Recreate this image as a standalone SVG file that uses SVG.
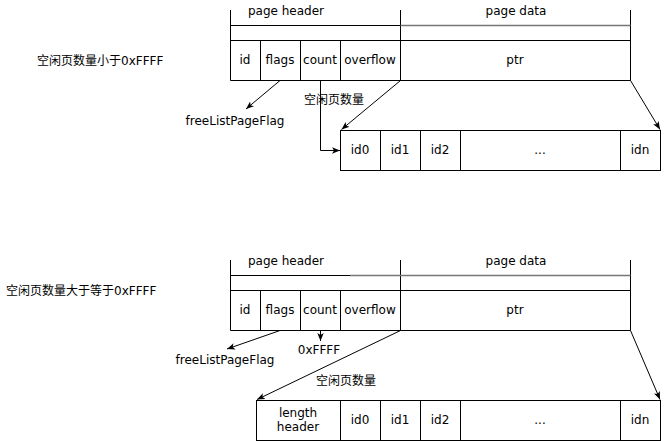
<svg xmlns="http://www.w3.org/2000/svg" width="669" height="441" viewBox="0 0 669 441">
<defs>
<marker id="ah" viewBox="0 0 10 10" refX="10" refY="5" markerWidth="8" markerHeight="8" markerUnits="userSpaceOnUse" orient="auto">
<path d="M0,1 L10,5 L0,9 L2.5,5 Z" fill="#000"/>
</marker>
</defs>
<style>
text{font-family:"DejaVu Sans","Noto Sans CJK SC",sans-serif;font-size:12px;fill:#000}
.c{text-anchor:middle}
.ln{stroke:#000;stroke-width:1;fill:none}
.gr{stroke:#777;stroke-width:1.5;fill:none}
.bx{stroke:#000;stroke-width:1;fill:#fff}
.ar{stroke:#000;stroke-width:1;fill:none;marker-end:url(#ah)}
</style>
<rect width="669" height="441" fill="#fff"/>

<g id="label-top"><text x="37" y="65">空闲页数量小于0xFFFF</text></g>
<g id="label-bottom"><text x="6" y="295">空闲页数量大于等于0xFFFF</text></g>

<!-- top page -->
<g id="page-top">
<path class="ln" d="M230.5,10 V80.5 H630.5 V10 M400.5,10 V80.5 M230.5,25.5 H400.5 M230.5,40.5 H630.5 M260.5,40.5 V80.5 M300.5,40.5 V80.5 M340.5,40.5 V80.5"/>
<path class="gr" d="M400.5,25.5 H630.5"/>
<text class="c" x="286" y="15">page header</text>
<text class="c" x="516" y="15">page data</text>
<text class="c" x="245" y="64">id</text>
<text class="c" x="280" y="64">flags</text>
<text class="c" x="320" y="64">count</text>
<text class="c" x="370" y="64">overflow</text>
<text class="c" x="515" y="64">ptr</text>
</g>

<g id="array-top">
<rect class="bx" x="340.5" y="130.5" width="320" height="40"/>
<path class="ln" d="M380.5,130.5 V170.5 M420.5,130.5 V170.5 M460.5,130.5 V170.5 M620.5,130.5 V170.5"/>
<text class="c" x="360" y="154">id0</text>
<text class="c" x="400" y="154">id1</text>
<text class="c" x="440" y="154">id2</text>
<text class="c" x="540" y="154">...</text>
<text class="c" x="640" y="154">idn</text>
</g>

<g id="text-top">
<text class="c" x="235" y="125">freeListPageFlag</text>
<text class="c" x="334" y="104">空闲页数量</text>
</g>

<!-- bottom page -->
<g id="page-bottom">
<path class="ln" d="M230.5,260 V330.5 H630.5 V260 M400.5,260 V330.5 M230.5,275.5 H350 M230.5,290.5 H630.5 M260.5,290.5 V330.5 M300.5,290.5 V330.5 M340.5,290.5 V330.5"/>
<path class="gr" d="M350,275.5 H630.5"/>
<text class="c" x="286" y="265">page header</text>
<text class="c" x="516" y="265">page data</text>
<text class="c" x="245" y="314">id</text>
<text class="c" x="280" y="314">flags</text>
<text class="c" x="320" y="314">count</text>
<text class="c" x="370" y="314">overflow</text>
<text class="c" x="515" y="314">ptr</text>
</g>

<g id="array-bottom">
<rect class="bx" x="256.5" y="400.5" width="404" height="40"/>
<path class="ln" d="M340.5,400.5 V440.5 M380.5,400.5 V440.5 M420.5,400.5 V440.5 M460.5,400.5 V440.5 M620.5,400.5 V440.5"/>
<text class="c" x="298" y="417">length</text>
<text class="c" x="298" y="431">header</text>
<text class="c" x="360" y="424">id0</text>
<text class="c" x="400" y="424">id1</text>
<text class="c" x="440" y="424">id2</text>
<text class="c" x="540" y="424">...</text>
<text class="c" x="640" y="424">idn</text>
</g>

<g id="text-bottom">
<text class="c" x="225" y="364">freeListPageFlag</text>
<text class="c" x="319" y="354">0xFFFF</text>
<text class="c" x="346" y="385">空闲页数量</text>
</g>

<g id="connectors">
<path class="ar" d="M280,80.5 L246,109"/>
<path class="ar" d="M320.5,80.5 V150.5 H340"/>
<path class="ar" d="M400.5,80.5 L341.5,129.5"/>
<path class="ar" d="M630.5,80.5 L660,129.5"/>
<path class="ar" d="M280,330.5 L227,349"/>
<path class="ar" d="M320.5,330.5 V341"/>
<path class="ar" d="M400.5,330.5 L257,399.5"/>
<path class="ar" d="M630.5,330.5 L660,399.5"/>
</g>
</svg>
